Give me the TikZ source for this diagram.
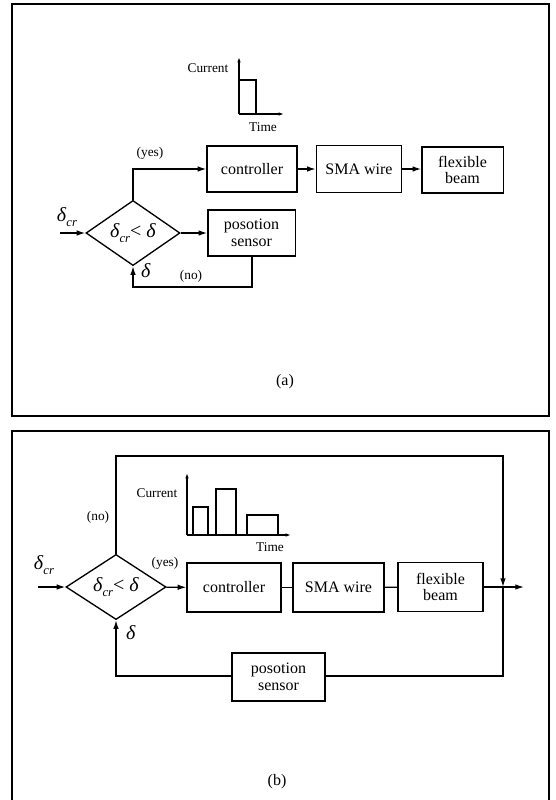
\documentclass[tikz,border=0pt]{standalone}
\usepackage{fontspec}
\setmainfont{Liberation Serif}
\usetikzlibrary{shapes.geometric,arrows.meta}
% delta symbols
\newcommand{\dlt}{\textit{δ}}
\newcommand{\dcr}{\textit{δ}\raisebox{-0.55ex}{\fontsize{9.5}{10}\selectfont\textit{cr}}}
\begin{document}
\begin{tikzpicture}[x=0.75pt,y=-0.75pt,line width=1pt,
  blk/.style={draw,rectangle,inner sep=0pt,align=center,font=\fontsize{12}{12.5}\selectfont},
  testbox/.style={draw,diamond,inner sep=0pt,font=\fontsize{15}{16}\selectfont},
  lbl/.style={inner sep=0pt,font=\fontsize{10}{11}\selectfont},
  sym/.style={inner sep=0pt,font=\fontsize{15}{16}\selectfont},
  panelcap/.style={inner sep=0pt,font=\fontsize{12}{13}\selectfont},
  arr/.style={-{Latex[length=6.5pt,width=4.2pt]}},
  plotaxis/.style={line width=0.8pt,-{Latex[length=4pt,width=2.6pt]}},
  ]
\useasboundingbox (0,0) rectangle (556,800);
\fill[white] (0,0) rectangle (556,800);

% ---------- panel (a) ----------
\draw (12,4) rectangle (549,416);

\node[testbox,minimum width=70.5pt,minimum height=39pt] (dA) at (133,233) {\dcr< \dlt};
\node[blk,minimum width=67.5pt,minimum height=34.5pt] (ctrlA) at (252,169) {controller};
\node[blk,minimum width=64pt,minimum height=35pt] (smaA) at (359,169) {SMA wire};
\node[blk,minimum width=61pt,minimum height=34.5pt] (beamA) at (462.5,170) {flexible\\beam};
\node[blk,minimum width=65.5pt,minimum height=34.5pt] (sensA) at (251.5,233) {posotion\\sensor};

\coordinate (inA) at (60,233);
\coordinate (fbA) at (252,287);
\draw[arr] (inA) -- (dA.west);
\draw[arr] (dA.north) |- (ctrlA.west);
\draw[arr] (ctrlA) -- (smaA);
\draw[arr] (smaA.east) -- (smaA.east -| beamA.west);
\draw[arr] (dA) -- (sensA);
\draw[arr] (sensA.south -| fbA) -- (fbA) -| (dA.south);

\node[sym] (dcrA) at (67,217) {\dcr};
\node[sym] (dltA) at (146,271) {\dlt};
\node[lbl] (yesA) at (150,153) {(yes)};
\node[lbl] (noA) at (191,276) {(no)};

% current pulse
\coordinate (oA) at (239,114);
\coordinate (yA) at (239,57);
\coordinate (xA) at (284,114);
\draw[plotaxis] (oA) -- (yA);
\draw[plotaxis] (oA) -- (xA);
\draw[line width=0.8pt] (239,80) -- (256,80) -- (256,114);
\node[lbl] (curA) at (208,68) {Current};
\node[lbl] (timeA) at (263,127) {Time};

\node[panelcap] (capA) at (285,382) {(a)};

% ---------- panel (b) ----------
\draw (12,803) -- (12,431) -- (549,431) -- (549,803);

\node[testbox,minimum width=75pt,minimum height=41pt] (dB) at (116,587) {\dcr< \dlt};
\node[blk,minimum width=70.5pt,minimum height=36.75pt] (ctrlB) at (234,587.5) {controller};
\node[blk,minimum width=68.25pt,minimum height=36.75pt] (smaB) at (338.5,587.5) {SMA wire};
\node[blk,minimum width=63.75pt,minimum height=36.75pt] (beamB) at (440.5,587) {flexible\\beam};
\node[blk,minimum width=69.75pt,minimum height=36pt] (sensB) at (278.5,677) {posotion\\sensor};

\coordinate (inB) at (38,587);
\coordinate (topR) at (503,456);
\coordinate (jB) at (503,587);
\coordinate (outB) at (524,587);
\coordinate (fbR) at (503,676);
\draw[arr] (inB) -- (dB.west);
\draw[arr] (dB) -- (ctrlB);
\draw (ctrlB) -- (smaB);
\draw (smaB) -- (beamB);
\draw[arr] (beamB.east |- jB) -- (outB);
\draw[arr] (dB.north) |- (topR) -- (jB);
\draw (jB) -- (fbR) -- (sensB.east |- fbR);
\draw[arr] (sensB.west |- fbR) -| (dB.south);

\node[sym] (dcrB) at (44,565) {\dcr};
\node[sym] (dltB) at (131,633) {\dlt};
\node[lbl] (yesB) at (165,563) {(yes)};
\node[lbl] (noB) at (98,517) {(no)};

% current pulse train
\coordinate (oB) at (187,535);
\coordinate (yB) at (187,473);
\coordinate (xB) at (291,535);
\draw[plotaxis] (oB) -- (yB);
\draw[plotaxis] (oB) -- (xB);
\draw[line width=0.8pt] (193,535) -- (193,507) -- (208,507) -- (208,535);
\draw[line width=0.8pt] (216,535) -- (216,489) -- (236,489) -- (236,535);
\draw[line width=0.8pt] (247,535) -- (247,515) -- (278,515) -- (278,535);
\node[lbl] (curB) at (157,493) {Current};
\node[lbl] (timeB) at (270,547) {Time};

\node[panelcap] (capB) at (277,782) {(b)};
\end{tikzpicture}
\end{document}
